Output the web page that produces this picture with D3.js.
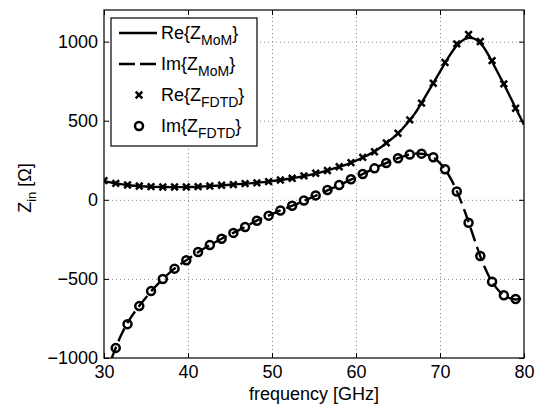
<!DOCTYPE html>
<html>
<head>
<meta charset="utf-8">
<script src="https://cdn.jsdelivr.net/npm/d3@7"></script>
<style>
  body { margin: 0; background: #fff; }
  text { font-family: "Liberation Sans", Arial, sans-serif; fill: #000; }
</style>
</head>
<body>
<script>
// MoM curves, sampled every GHz
var momFreq = [30,31,32,33,34,35,36,37,38,39,40,41,42,43,44,45,46,47,48,49,50,
  51,52,53,54,55,56,57,58,59,60,61,62,63,64,65,66,67,68,69,70,
  71,72,73,74,75,76,77,78,79,80];
var reMoM = [118,108,99,92,88,84,82,81,80,80,81,82,85,88,91,95,99,103,107,112,118,
  125,133,142,152,164,177,192,208,226,248,272,300,334,374,420,478,545,630,720,810,
  900,975,1018,1020,978,893,792,690,580,475];
var imMoM = [-1130,-990,-860,-760,-685,-618,-555,-501,-452,-412,-375,-338,-305,-275,-246,-219,-193,-166,-136,-113,-91,
  -67,-46,-25,-2,21,45,69,92,118,143,168,194,219,242,263,281,292,290,274,232,
  160,55,-80,-235,-385,-500,-575,-615,-630,-620];

// FDTD samples
var fdtdFreq = [30,31.4,32.8,34.2,35.6,37,38.4,39.8,41.2,42.6,44,45.4,46.8,48.2,49.6,51,
  52.4,53.8,55.2,56.6,58,59.4,60.8,62.2,63.6,65,66.4,67.8,69.2,70.6,72,73.4,74.8,76.2,77.6,79];
var reFDTD = [121,104,94,87,83,81,81,81,83,87,92,96,102,107,115,125,
  136,151,168,185,209,235,268,304,360,421,505,611,737,868,986,1045,1001,880,733,579];
var imFDTD = [-1080,-936,-786,-672,-577,-501,-435,-382,-330,-286,-246,-209,-172,-132,-100,-67,
  -38,-4,28,62,94,130,163,199,233,263,287,292,269,193,53,-145,-355,-518,-603,-627];

var xTicks = [30,40,50,60,70,80];
var yTicks = [-1000,-500,0,500,1000];
var legendItems = [
  {main: "Re{Z", sub: "MoM", kind: "solid"},
  {main: "Im{Z", sub: "MoM", kind: "dash"},
  {main: "Re{Z", sub: "FDTD", kind: "cross"},
  {main: "Im{Z", sub: "FDTD", kind: "circle"}
];

var w = 537, h = 409;
var mLeft = 104, mRight = 524, mTop = 10, mBottom = 358;
var pw = mRight - mLeft, ph = mBottom - mTop;

var svg = d3.select("body").append("svg")
  .attr("width", w).attr("height", h);

var scaleX = d3.scaleLinear().domain([30, 80]).range([mLeft, mRight]);
var scaleY = d3.scaleLinear().domain([-1000, 1200]).range([mBottom, mTop]);

// grid
svg.append("g")
  .attr("transform", "translate(0," + mBottom + ")")
  .call(d3.axisBottom(scaleX).tickValues(xTicks.slice(1, -1)).tickSize(-ph).tickFormat(""))
  .call(function(g) { g.select(".domain").remove(); })
  .selectAll("line").attr("stroke", "#888").attr("stroke-dasharray", "1,3");
svg.append("g")
  .attr("transform", "translate(" + mLeft + ",0)")
  .call(d3.axisLeft(scaleY).tickValues(yTicks.slice(1)).tickSize(-pw).tickFormat(""))
  .call(function(g) { g.select(".domain").remove(); })
  .selectAll("line").attr("stroke", "#888").attr("stroke-dasharray", "1,3");

svg.append("clipPath").attr("id", "clip")
  .append("rect").attr("x", mLeft).attr("y", mTop).attr("width", pw).attr("height", ph);

var plot = svg.append("g").attr("clip-path", "url(#clip)");

var line = function(ys) {
  return d3.line()
    .x(function(d, i) { return scaleX(momFreq[i]); })
    .y(function(d) { return scaleY(d); })
    .curve(d3.curveCatmullRom)(ys);
};

plot.append("path").attr("d", line(reMoM))
  .attr("fill", "none").attr("stroke", "#000").attr("stroke-width", 2.4);
plot.append("path").attr("d", line(imMoM))
  .attr("fill", "none").attr("stroke", "#000").attr("stroke-width", 2.4)
  .attr("stroke-dasharray", "14,6");

function cross(sel) {
  sel.append("path").attr("d", "M-3.3,-3.3L3.3,3.3M-3.3,3.3L3.3,-3.3")
    .attr("stroke", "#000").attr("stroke-width", 2.5).attr("fill", "none");
}
function circ(sel) {
  sel.append("circle").attr("r", 4)
    .attr("stroke", "#000").attr("stroke-width", 2.5).attr("fill", "none");
}

plot.selectAll("g.re").data(reFDTD).enter().append("g").attr("class", "re")
  .attr("transform", function(d, i) { return "translate(" + scaleX(fdtdFreq[i]) + "," + scaleY(d) + ")"; })
  .call(cross);
plot.selectAll("g.im").data(imFDTD).enter().append("g").attr("class", "im")
  .attr("transform", function(d, i) { return "translate(" + scaleX(fdtdFreq[i]) + "," + scaleY(d) + ")"; })
  .call(circ);

// axes with inward ticks
var xAxis = d3.axisBottom(scaleX).tickValues(xTicks).tickSize(-5).tickPadding(7);
var yAxis = d3.axisLeft(scaleY).tickValues(yTicks).tickSize(-5).tickPadding(6)
  .tickFormat(function(d) { return d < 0 ? "\u2212" + Math.abs(d) : d; });

svg.append("g").attr("transform", "translate(0," + mBottom + ")").call(xAxis);
svg.append("g").attr("transform", "translate(" + mLeft + ",0)").call(yAxis);
svg.append("g").attr("transform", "translate(0," + mTop + ")")
  .call(d3.axisTop(scaleX).tickValues(xTicks).tickSize(-5).tickFormat(""));
svg.append("g").attr("transform", "translate(" + mRight + ",0)")
  .call(d3.axisRight(scaleY).tickValues(yTicks).tickSize(-5).tickFormat(""));
svg.selectAll(".domain").remove();
svg.selectAll(".tick text").attr("font-size", 18).attr("font-family", "Liberation Sans, Arial, sans-serif");

svg.append("rect").attr("x", mLeft).attr("y", mTop).attr("width", pw).attr("height", ph)
  .attr("fill", "none").attr("stroke", "#000").attr("stroke-width", 1.2);

// axis labels
svg.append("text").attr("x", (mLeft + mRight) / 2).attr("y", 400)
  .attr("text-anchor", "middle").attr("font-size", 18)
  .text("frequency [GHz]");

var yl = svg.append("text").attr("transform", "translate(31,188) rotate(-90)")
  .attr("text-anchor", "middle").attr("font-size", 18);
yl.append("tspan").text("Z");
yl.append("tspan").attr("font-size", 13).attr("dy", 5).text("in");
yl.append("tspan").attr("dy", -5).text(" [\u03A9]");

// legend
var lg = svg.append("g");
lg.append("rect").attr("x", 111).attr("y", 18).attr("width", 146).attr("height", 128)
  .attr("fill", "#fff").attr("stroke", "#000").attr("stroke-width", 1.2);

var rows = lg.selectAll("g.row").data(legendItems).enter().append("g")
  .attr("transform", function(d, i) { return "translate(0," + (33 + i * 31) + ")"; });

rows.each(function(d) {
  var r = d3.select(this);
  if (d.kind == "solid" || d.kind == "dash") {
    r.append("line").attr("x1", 119).attr("x2", 157).attr("y1", 0).attr("y2", 0)
      .attr("stroke", "#000").attr("stroke-width", 2.4)
      .attr("stroke-dasharray", d.kind == "dash" ? "16,5" : null);
  } else {
    var m = r.append("g").attr("transform", "translate(139,0)");
    if (d.kind == "cross") cross(m); else circ(m);
  }
  var t = r.append("text").attr("x", 161).attr("y", 6).attr("font-size", 18);
  t.append("tspan").text(d.main);
  t.append("tspan").attr("font-size", 14).attr("dy", 6).text(d.sub);
  t.append("tspan").attr("dy", -6).text("}");
});
</script>
</body>
</html>
